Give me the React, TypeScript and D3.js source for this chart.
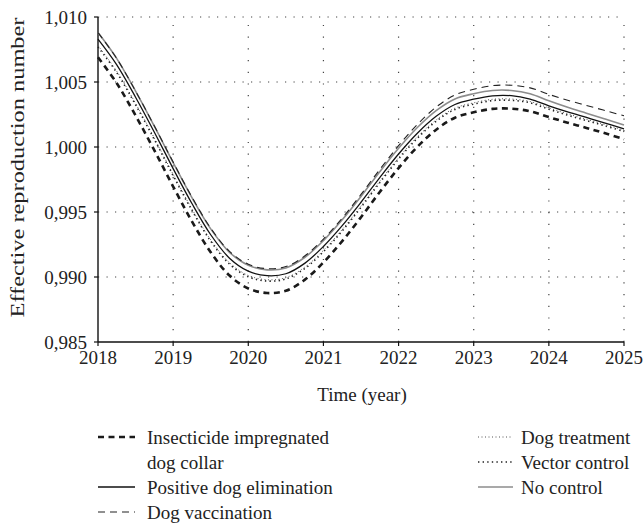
import React from "react";
import * as d3 from "d3";

const years = [
  2018, 2018.25, 2018.5, 2018.75, 2019, 2019.25, 2019.5, 2019.75, 2020, 2020.25,
  2020.5, 2020.75, 2021, 2021.25, 2021.5, 2021.75, 2022, 2022.25, 2022.5, 2022.75,
  2023, 2023.25, 2023.5, 2023.75, 2024, 2024.25, 2024.5, 2024.75, 2025,
];

const noControl = [
  1.0088, 1.0068, 1.0043, 1.0016, 0.9988, 0.9961, 0.9937, 0.9919, 0.9909, 0.99055,
  0.9907, 0.9915, 0.9928, 0.9944, 0.9962, 0.9981, 0.9999, 1.0015, 1.0028, 1.0037,
  1.0041, 1.00435, 1.00435, 1.0041, 1.00355, 1.00305, 1.0026, 1.00215, 1.0017,
];

const dogVaccination = [
  1.0088, 1.0068, 1.0043, 1.00162, 0.99884, 0.99615, 0.99376, 0.99197, 0.99098, 0.99064,
  0.9908, 0.99161, 0.99292, 0.99453, 0.99635, 0.99827, 1.0001, 1.00173, 1.00307, 1.004,
  1.00444, 1.00472, 1.00475, 1.00455, 1.00405, 1.0036, 1.0032, 1.0028, 1.0024,
];

const positiveElimination = [
  1.0083, 1.00632, 1.00383, 1.00114, 0.99834, 0.99565, 0.99325, 0.99145, 0.99045, 0.9901,
  0.99025, 0.99105, 0.99235, 0.99395, 0.99575, 0.99765, 0.99946, 1.00106, 1.00236, 1.00327,
  1.00368, 1.00394, 1.00395, 1.00368, 1.00317, 1.0027, 1.00227, 1.00184, 1.0014,
];

const dogTreatment = [
  1.0078, 1.00582, 1.00335, 1.00068, 0.9979, 0.99523, 0.99286, 0.9911, 0.99012, 0.98979,
  0.98995, 0.99075, 0.99205, 0.99365, 0.99546, 0.99736, 0.99917, 1.00078, 1.00208, 1.00299,
  1.0034, 1.00367, 1.00369, 1.0035, 1.00301, 1.00255, 1.00213, 1.00172, 1.0013,
];

const vectorControl = [
  1.0077, 1.00572, 1.00325, 1.00058, 0.9978, 0.99513, 0.99276, 0.991, 0.99002, 0.98969,
  0.98985, 0.99065, 0.99195, 0.99355, 0.99536, 0.99726, 0.99907, 1.00068, 1.00198, 1.00289,
  1.0033, 1.00357, 1.00359, 1.0034, 1.00291, 1.00245, 1.00203, 1.00162, 1.0012,
];

const dogCollar = [
  1.0069, 1.0049, 1.00242, 0.99974, 0.99696, 0.99428, 0.9919, 0.99011, 0.98912, 0.98877,
  0.98894, 0.98978, 0.99112, 0.99276, 0.9946, 0.99654, 0.99838, 1.00001, 1.00133, 1.00225,
  1.00267, 1.00293, 1.00295, 1.00275, 1.0023, 1.00187, 1.00147, 1.00105, 1.0006,
];

const xTicks = [2018, 2019, 2020, 2021, 2022, 2023, 2024, 2025];
const yTicks = [0.985, 0.99, 0.995, 1.0, 1.005, 1.01];

const W = 644;
const H = 528;
const left = 98;
const right = 624;
const top = 17;
const bottom = 342;
const FONT = "'Liberation Serif', 'Times New Roman', serif";
const FS = 19;

type S = {
  name: string[];
  values: number[];
  stroke: string;
  width: number;
  dash: string;
};

const series: S[] = [
  { name: ["No control"], values: noControl, stroke: "#8c8c8c", width: 1.6, dash: "none" },
  { name: ["Dog vaccination"], values: dogVaccination, stroke: "#222", width: 1.1, dash: "7,5" },
  { name: ["Positive dog elimination"], values: positiveElimination, stroke: "#111", width: 1.3, dash: "none" },
  { name: ["Dog treatment"], values: dogTreatment, stroke: "#555", width: 1.0, dash: "1,2.5" },
  { name: ["Vector control"], values: vectorControl, stroke: "#222", width: 1.6, dash: "1.4,3.2" },
  { name: ["Insecticide impregnated", "dog collar"], values: dogCollar, stroke: "#1a1a1a", width: 2.6, dash: "6,4.5" },
];

export default function App() {
  const x = d3.scaleLinear().domain([2018, 2025]).range([left, right]);
  const y = d3.scaleLinear().domain([0.985, 1.01]).range([bottom, top]);
  const fmt = (v: number) => d3.format(".3f")(v).replace(".", ",");

  const line = (vals: number[]) =>
    d3
      .line<number>()
      .x((_, i) => x(years[i]))
      .y((d) => y(d))
      .curve(d3.curveCatmullRom.alpha(0.5))(vals) || "";

  const legendLeft = [
    { s: series[5], row: 0 },
    { s: series[2], row: 2 },
    { s: series[1], row: 3 },
  ];
  const legendRight = [
    { s: series[3], row: 0 },
    { s: series[4], row: 1 },
    { s: series[0], row: 2 },
  ];
  const rowY = (r: number) => 437 + r * 25;

  return (
    <svg
      width={W}
      height={H}
      style={{ position: "absolute", left: 0, top: 0, background: "#fff" }}
      fontFamily={FONT}
    >
      <rect width={W} height={H} fill="#fff" />
      {yTicks
        .filter((t) => t > 0.985)
        .map((t) => (
          <line
            key={"gy" + t}
            x1={left}
            x2={right}
            y1={y(t)}
            y2={y(t)}
            stroke="#444"
            strokeWidth={1.2}
            strokeDasharray="1.2,7.3"
          />
        ))}
      {xTicks
        .filter((t) => t > 2018)
        .map((t) => (
          <line
            key={"gx" + t}
            x1={x(t)}
            x2={x(t)}
            y1={bottom}
            y2={top}
            stroke="#444"
            strokeWidth={1.2}
            strokeDasharray="1.2,10.5"
          />
        ))}
      <line x1={left} x2={left} y1={top} y2={bottom} stroke="#111" strokeWidth={1.4} />
      <line x1={left} x2={right} y1={bottom} y2={bottom} stroke="#111" strokeWidth={1.4} />
      {yTicks.map((t) => (
        <g key={"yt" + t}>
          <line x1={left - 4} x2={left} y1={y(t)} y2={y(t)} stroke="#111" strokeWidth={1.2} />
          <text x={left - 11} y={y(t)} dy="0.35em" textAnchor="end" fontSize={FS} fill="#222">
            {fmt(t)}
          </text>
        </g>
      ))}
      {xTicks.map((t) => (
        <g key={"xt" + t}>
          <line x1={x(t)} x2={x(t)} y1={bottom} y2={bottom + 4} stroke="#111" strokeWidth={1.2} />
          <text x={x(t)} y={bottom + 22} textAnchor="middle" fontSize={FS} fill="#222">
            {t}
          </text>
        </g>
      ))}
      <text x={362} y={401} textAnchor="middle" fontSize={FS} fill="#222">
        Time (year)
      </text>
      <text
        transform={`translate(24,${(top + bottom) / 2 - 12}) rotate(-90)`}
        textAnchor="middle"
        fontSize={FS}
        fill="#222"
        textLength={300}
        lengthAdjust="spacingAndGlyphs"
      >
        Effective reproduction number
      </text>
      {series.map((s) => (
        <path
          key={s.name[0]}
          d={line(s.values)}
          fill="none"
          stroke={s.stroke}
          strokeWidth={s.width}
          strokeDasharray={s.dash === "none" ? undefined : s.dash}
        />
      ))}
      {legendLeft.map(({ s, row }) => (
        <g key={"ll" + s.name[0]}>
          <line
            x1={98}
            x2={135}
            y1={rowY(row)}
            y2={rowY(row)}
            stroke={s.stroke}
            strokeWidth={s.width}
            strokeDasharray={s.dash === "none" ? undefined : s.dash}
          />
          {s.name.map((n, i) => (
            <text key={n} x={147} y={rowY(row + i)} dy="0.35em" fontSize={FS} fill="#222">
              {n}
            </text>
          ))}
        </g>
      ))}
      {legendRight.map(({ s, row }) => (
        <g key={"lr" + s.name[0]}>
          <line
            x1={478}
            x2={513}
            y1={rowY(row)}
            y2={rowY(row)}
            stroke={s.stroke}
            strokeWidth={s.width}
            strokeDasharray={s.dash === "none" ? undefined : s.dash}
          />
          <text x={521} y={rowY(row)} dy="0.35em" fontSize={FS} fill="#222">
            {s.name[0]}
          </text>
        </g>
      ))}
    </svg>
  );
}
